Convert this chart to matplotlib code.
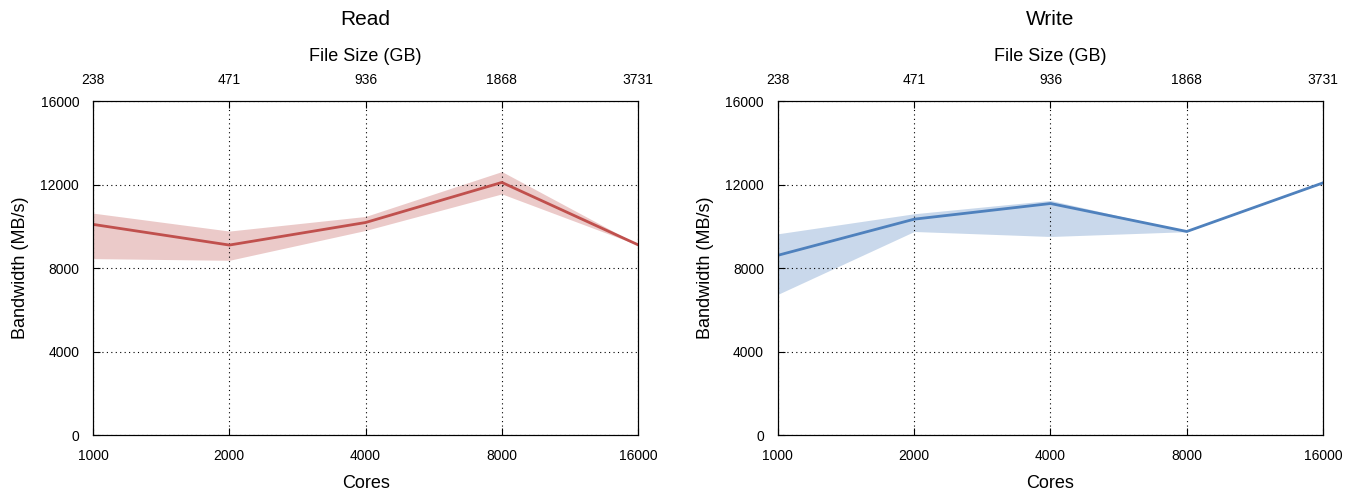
import matplotlib
matplotlib.use("Agg")
import matplotlib.pyplot as plt
from matplotlib.ticker import FixedLocator, NullLocator

plt.rcParams['font.family'] = ['Liberation Sans', 'DejaVu Sans']

cores = [1000, 2000, 4000, 8000, 16000]
file_size = ['238', '471', '936', '1868', '3731']
y_ticks = [0, 4000, 8000, 12000, 16000]

read_mean = [10090, 9100, 10180, 12100, 9110]
read_low = [8450, 8370, 9800, 11550, 9100]
read_high = [10630, 9770, 10470, 12620, 9120]

write_mean = [8610, 10340, 11090, 9750, 12080]
write_low = [6740, 9750, 9510, 9740, 12070]
write_high = [9640, 10600, 11240, 9760, 12090]

fig = plt.figure(figsize=(13.56, 4.93), dpi=100)


def panel(rect, title, mean, low, high, color):
    ax = fig.add_axes(rect)
    ax.set_xscale('log', base=2)
    ax.fill_between(cores, low, high, color=color, alpha=0.3, lw=0)
    ax.plot(cores, mean, color=color, lw=2)
    ax.set_xlim(cores[0], cores[-1])
    ax.set_ylim(0, 16000)
    ax.xaxis.set_major_locator(FixedLocator(cores))
    ax.xaxis.set_minor_locator(NullLocator())
    ax.set_xticklabels([str(c) for c in cores])
    ax.set_yticks(y_ticks)
    ax.grid(True, color='black', linestyle=(0, (1, 3)), lw=0.8)
    ax.tick_params(direction='in', labelsize=10, pad=10, length=5)
    ax.set_xlabel('Cores', fontsize=13, labelpad=9)
    ax.set_ylabel('Bandwidth (MB/s)', fontsize=13, labelpad=8)

    # file size axis on top, same positions as cores
    top = ax.twiny()
    top.set_xscale('log', base=2)
    top.set_xlim(ax.get_xlim())
    top.xaxis.set_major_locator(FixedLocator(cores))
    top.xaxis.set_minor_locator(NullLocator())
    top.set_xticklabels(file_size)
    top.tick_params(direction='in', labelsize=10, pad=10, length=5)
    top.set_xlabel('File Size (GB)', fontsize=13, labelpad=9)
    top.set_title(title, fontsize=15, pad=16)
    return ax


panel([0.0686, 0.1176, 0.402, 0.6775], 'Read', read_mean, read_low, read_high, '#c0504d')
panel([0.5737, 0.1176, 0.402, 0.6775], 'Write', write_mean, write_low, write_high, '#4f81bd')

fig.savefig('out.png', dpi=100)
